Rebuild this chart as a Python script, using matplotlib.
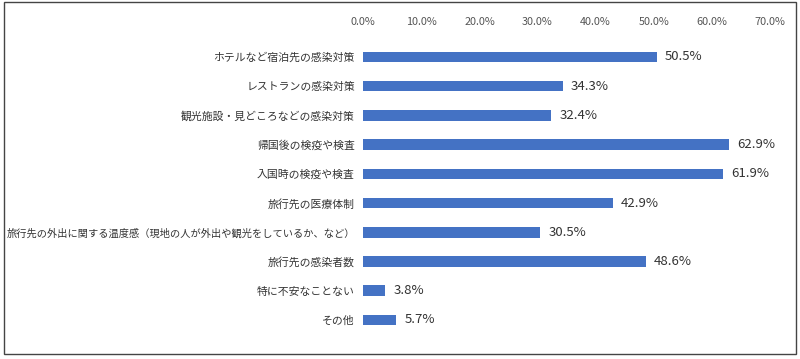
import matplotlib.pyplot as plt
from matplotlib.patches import Rectangle

plt.rcParams['font.family'] = ['Noto Sans CJK JP', 'DejaVu Sans']

# Survey items (top to bottom) and their shares (%)
categories = [
    'ホテルなど宿泊先の感染対策',
    'レストランの感染対策',
    '観光施設・見どころなどの感染対策',
    '帰国後の検疫や検査',
    '入国時の検疫や検査',
    '旅行先の医療体制',
    '旅行先の外出に関する温度感（現地の人が外出や観光をしているか、など）',
    '旅行先の感染者数',
    '特に不安なことない',
    'その他',
]
values = [50.5, 34.3, 32.4, 62.9, 61.9, 42.9, 30.5, 48.6, 3.8, 5.7]
xticks = [0, 10, 20, 30, 40, 50, 60, 70]

fig = plt.figure(figsize=(8, 3.59), dpi=100)
ax = fig.add_axes([0.454, 0.068, 0.5085, 0.814])

y = list(range(len(categories)))
ax.barh(y, values, height=0.36, color='#4472C4')

for yi, v in zip(y, values):
    ax.annotate(f'{v:.1f}%', (v, yi), xytext=(6, 0), textcoords='offset points',
                va='center', ha='left', fontsize=9.5, color='#333333')

ax.set_xlim(0, 70)
ax.set_ylim(len(categories) - 0.5, -0.5)
ax.set_yticks(y)
ax.set_yticklabels(categories, fontsize=7.8, color='#333333')
# the long label is set a bit smaller so it fits inside the frame
for lab in ax.get_yticklabels():
    if len(lab.get_text()) > 20:
        lab.set_fontsize(7.35)
ax.set_xticks(xticks)
ax.set_xticklabels([f'{t:.1f}%' for t in xticks], fontsize=7.8, color='#555555')
ax.xaxis.tick_top()
ax.tick_params(axis='both', length=0)
ax.tick_params(axis='x', pad=11)
ax.tick_params(axis='y', pad=6)
for s in ax.spines.values():
    s.set_visible(False)

# outer frame
fig.patches.append(Rectangle((0.005, 0.015), 0.99, 0.98, transform=fig.transFigure,
                             fill=False, edgecolor='#444444', linewidth=1.0))

fig.savefig('out.png', dpi=100)
